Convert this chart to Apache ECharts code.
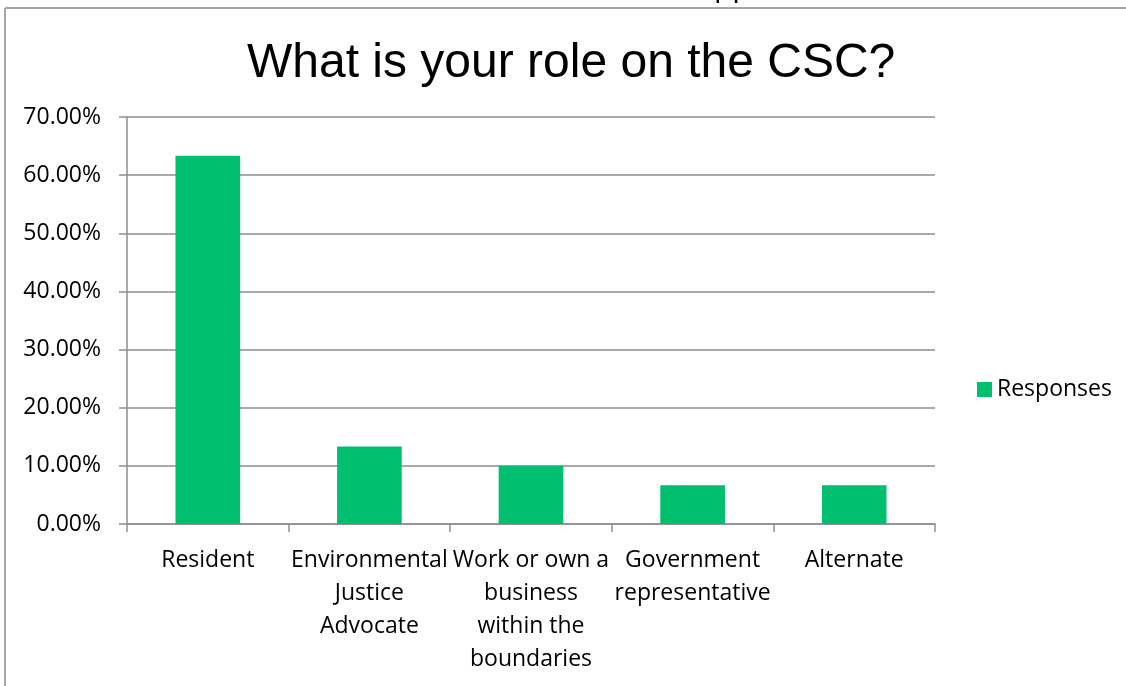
<!DOCTYPE html>
<html>
<head>
<meta charset="utf-8">
<script src="https://cdn.jsdelivr.net/npm/echarts@6/dist/echarts.min.js"></script>
<style>
  html, body { margin: 0; padding: 0; background: #fff; }
  #chart { width: 1126px; height: 686px; }
</style>
</head>
<body>
<div id="chart"></div>
<script>
// Survey question: role of each respondent on the CSC (share of responses)
const chartTitle = 'What is your role on the CSC?';
const seriesName = 'Responses';
const categories = [
  'Resident',
  'Environmental\nJustice\nAdvocate',
  'Work or own a\nbusiness\nwithin the\nboundaries',
  'Government\nrepresentative',
  'Alternate'
];
const shares = [0.6333, 0.1333, 0.10, 0.0667, 0.0667];
const axisMin = 0;
const axisMax = 0.7;
const axisStep = 0.1;

const labelFont = '"Open Sans", "Noto Sans", sans-serif';
const gridGray = '#8e8e8e';
const barGreen = '#00BF6F';

const chart = echarts.init(document.getElementById('chart'), null, { renderer: 'canvas' });

chart.setOption({
  animation: false,
  backgroundColor: '#ffffff',
  title: {
    text: chartTitle,
    left: 242,
    top: 35,
    textStyle: {
      fontFamily: '"Liberation Sans", Arial, sans-serif',
      fontSize: 48,
      fontWeight: 'normal',
      color: '#000000'
    }
  },
  legend: {
    data: [seriesName],
    orient: 'vertical',
    left: 977,
    top: 378,
    padding: 0,
    icon: 'rect',
    itemWidth: 15,
    itemHeight: 15,
    itemGap: 10,
    textStyle: { fontFamily: labelFont, fontSize: 23, color: '#000000' }
  },
  grid: { left: 127, right: 191, top: 117, bottom: 162, containLabel: false },
  xAxis: {
    type: 'category',
    data: categories,
    axisLine: { show: true, lineStyle: { color: gridGray, width: 1.5 } },
    axisTick: { show: true, length: 8, lineStyle: { color: gridGray, width: 1.5 } },
    axisLabel: {
      interval: 0,
      margin: 20,
      fontFamily: labelFont,
      fontSize: 23,
      lineHeight: 33,
      color: '#000000',
      align: 'center'
    }
  },
  yAxis: {
    type: 'value',
    min: axisMin,
    max: axisMax,
    interval: axisStep,
    axisLine: { show: true, lineStyle: { color: gridGray, width: 1.5 } },
    axisTick: { show: true, length: 8, lineStyle: { color: gridGray, width: 1.5 } },
    splitLine: { show: true, lineStyle: { color: gridGray, width: 1.5 } },
    axisLabel: {
      margin: 26,
      fontFamily: labelFont,
      fontSize: 23,
      color: '#000000',
      formatter: v => (v * 100).toFixed(2) + '%'
    }
  },
  series: [{
    name: seriesName,
    type: 'bar',
    data: shares,
    barWidth: '40%',
    itemStyle: { color: barGreen }
  }],
  graphic: [
    // outer frame of the embedded chart (top and left edges)
    { type: 'line', shape: { x1: 5, y1: 8, x2: 1126, y2: 8 }, style: { stroke: '#a6a6a6', lineWidth: 2 }, silent: true },
    { type: 'line', shape: { x1: 5, y1: 8, x2: 5, y2: 686 }, style: { stroke: '#a6a6a6', lineWidth: 2 }, silent: true },
    // tail of the page heading above the chart
    { type: 'text', left: 714, top: -28, style: { text: 'pp', fontFamily: labelFont, fontSize: 30, fill: '#000000' }, silent: true }
  ]
});
</script>
</body>
</html>
